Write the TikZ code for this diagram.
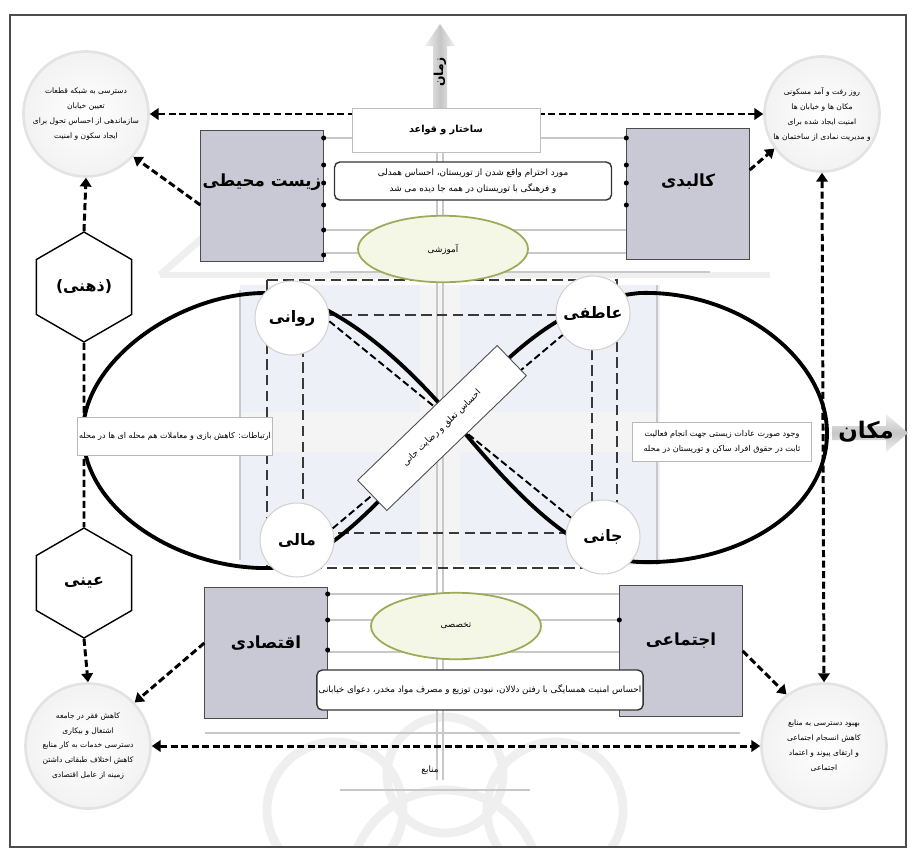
\documentclass[tikz,border=0pt]{standalone}
\usepackage{fontspec}
\usepackage{xcolor}
\usetikzlibrary{positioning,calc,arrows.meta,shapes.geometric}
\TeXXeTstate=1
\newfontfamily\fa[Script=Arabic]{DejaVu Sans}
\newcommand{\rl}[1]{\beginR#1\endR}
\definecolor{dimFill}{HTML}{C9C9D5}
\definecolor{ellLine}{HTML}{9EAA5A}
\definecolor{ellFill}{HTML}{F5F7E6}
\definecolor{panelFill}{HTML}{EDF1F7}
\definecolor{guideGray}{HTML}{C8C8C8}
\definecolor{markGray}{HTML}{EFEFEF}

\tikzset{
  dimBox/.style={rectangle, draw=gray!60!black, line width=0.5pt, fill=dimFill,
    minimum width=2.45cm, minimum height=2.62cm, inner sep=0pt},
  dimLabel/.style={font=\fa\bfseries\fontsize{9.5}{11}\selectfont},
  facetCirc/.style={circle, draw=gray!35, fill=white, line width=0.6pt,
    minimum size=1.48cm, inner sep=0pt, font=\fa\bfseries\fontsize{9}{10}\selectfont},
  cornerCirc/.style={circle, draw=gray!22, line width=1.5pt, inner color=white,
    outer color=gray!10, minimum size=2.5cm, inner sep=0pt, align=center,
    font=\fa\fontsize{4.3}{8.5}\selectfont},
  noteBox/.style={rectangle, draw=gray!40!black, line width=0.8pt, rounded corners=3pt,
    fill=white, inner sep=1pt, align=center, font=\fa\fontsize{5}{9}\selectfont},
  flatBox/.style={rectangle, draw=gray!55, line width=0.5pt, fill=white, inner sep=1pt,
    align=center, font=\fa\fontsize{4.6}{9}\selectfont},
  themeEll/.style={ellipse, draw=ellLine, line width=1pt, fill=ellFill,
    minimum width=3.4cm, minimum height=1.33cm, font=\fa\fontsize{5}{6}\selectfont},
  levelHex/.style={regular polygon, regular polygon sides=6, shape border rotate=30,
    draw=black, line width=0.8pt, fill=white, minimum size=2.2cm, inner sep=0pt,
    font=\fa\bfseries\fontsize{9}{10}\selectfont},
  flowDash/.style={line width=1.7pt, dash pattern=on 4pt off 2pt},
  flowTip/.style={-{Triangle[length=5pt,width=6.5pt]}},
  flowTips/.style={{Triangle[length=5pt,width=6.5pt]}-{Triangle[length=5pt,width=6.5pt]}},
  frameDash/.style={gray!45!black, line width=0.6pt, dash pattern=on 6pt off 3pt},
  guide/.style={guideGray, line width=0.6pt},
}

\begin{document}
\begin{tikzpicture}[x=0.02cm, y=-0.02cm]

\useasboundingbox (0,0) rectangle (910,849);
\fill[white] (0,0) rectangle (910,849);

% --- WATERMARK (faint) ---
\begin{scope}
  \clip (10,15) rectangle (906,847);
  \foreach \cx/\cy/\r in {335/810/68, 445/775/58, 555/810/68, 445/885/95}
    \draw[markGray, line width=5pt] (\cx,\cy) circle[radius=\r];
  \draw[markGray, line width=4pt] (160,275) -- (232,212);
  \draw[markGray, line width=3pt] (160,275) -- (770,275);
\end{scope}

% --- FRAME ---
\draw[line width=1.1pt, gray!60!black] (10,15) rectangle (906,847);

% --- CENTRE PANEL ---
\fill[panelFill] (240,285) rectangle (660,565);
\fill[gray!9] (420,285) rectangle (460,565);
\fill[gray!9] (240,412) rectangle (660,452);

% --- GUIDE LINES ---
\foreach \y in {138,230,253} \draw[guide] (325,\y) -- (628,\y);
\foreach \y in {594,620,652} \draw[guide] (328,\y) -- (623,\y);
\draw[guide] (330,272) -- (710,272);
\draw[guide] (205,733) -- (740,733);
\draw[guide] (340,790) -- (530,790);
\foreach \x in {437,443} \draw[guide] (\x,152) -- (\x,780);
\draw[guide] (240,290) -- (240,560);
\draw[guide] (657,285) -- (657,565);

% --- DASHED FRAMES ---
\draw[frameDash] (267,280) rectangle (617,568);
\draw[frameDash] (303,315) rectangle (592,533);

% --- DOUBLE LOOP ---
\draw[line width=2.2pt]
  (452,418) .. controls (390,345) and (320,292) .. (265,293)
  .. controls (180,293) and (83,360) .. (83,433)
  .. controls (83,510) and (180,570) .. (270,568)
  .. controls (330,566) and (400,480) .. (452,418)
  .. controls (500,362) and (560,300) .. (640,293)
  .. controls (740,290) and (827,360) .. (827,433)
  .. controls (827,510) and (740,565) .. (640,562)
  .. controls (570,560) and (500,475) .. (452,418);

% --- FACET CIRCLES ---
\node[facetCirc] (ravCirc)  at (292,318) {\rl{روانی}};
\node[facetCirc] (atfCirc)  at (593,313) {\rl{عاطفی}};
\node[facetCirc] (maliCirc) at (297,540) {\rl{مالی}};
\node[facetCirc] (janCirc)  at (603,537) {\rl{جانی}};
\draw[flowDash, line width=1.1pt] (ravCirc.-5) -- (janCirc.149);
\draw[flowDash, line width=1.1pt] (maliCirc.18) -- (atfCirc.216);

% --- DIAGONAL NOTE ---
\node[flatBox, draw=gray!60!black, rotate=44, minimum width=3.88cm, minimum height=0.84cm,
      font=\fa\fontsize{5}{9}\selectfont] (diagBox) at (442,428)
  {\rl{احساس تعلق و رضایت جانی}};

% --- LEVEL HEXAGONS + CORNER CIRCLES ---
\node[levelHex] (dhnHex) at (84,287) {\rl{(ذهنی)}};
\node[levelHex] (eynHex) at (84,583) {\rl{عینی}};
\node[cornerCirc] (crnTL) at (86,114)
  {\rl{دسترسی به شبکه قطعات}\\\rl{تعیین خیابان}\\\rl{سازماندهی از احساس تحول برای}\\\rl{ایجاد سکون و امنیت}};
\node[cornerCirc, minimum size=2.3cm] (crnTR) at (822,114)
  {\rl{روز رفت و آمد مسکونی}\\\rl{مکان ها و خیابان ها}\\\rl{امنیت ایجاد شده برای}\\\rl{و مدیریت نمادی از ساختمان ها}};
\node[cornerCirc] (crnBL) at (88,746)
  {\rl{کاهش فقر در جامعه}\\\rl{اشتغال و بیکاری}\\\rl{دسترسی خدمات به کار منابع}\\\rl{کاهش اختلاف طبقاتی داشتن}\\\rl{زمینه از عامل اقتصادی}};
\node[cornerCirc] (crnBR) at (824,746)
  {\rl{بهبود دسترسی به منابع}\\\rl{کاهش انسجام اجتماعی}\\\rl{و ارتقای پیوند و اعتماد}\\\rl{اجتماعی}};

% --- LEVEL LINKS ---
\draw[flowDash] (dhnHex.south) -- (eynHex.north);
\draw[flowDash, flowTip] (dhnHex.north) -- (crnTL.south);
\draw[flowDash, flowTip] (eynHex.south) -- (crnBL.north);
\draw[flowDash, flowTips] (crnTL.east) -- (crnTR.west);
\draw[flowDash, flowTips] (crnBL.east) -- (crnBR.west);
\draw[flowDash, flowTips] (crnTR.south) -- (crnBR.north);

% --- SIDE NOTES ---
\node[flatBox, minimum width=3.68cm, minimum height=0.76cm] (leftNote) at (175,436)
  {\rl{ارتباطات: کاهش بازی و معاملات هم محله ای ها در محله}};
\node[flatBox, minimum width=3.58cm, minimum height=0.78cm] (rightNote) at (722,442)
  {\rl{وجود صورت عادات زیستی جهت انجام فعالیت}\\\rl{ثابت در حقوق افراد ساکن و توریستان در محله}};

% --- DIMENSION BOXES ---
\node[dimBox] (zistBox) at (262,196) {};
\node[dimBox] (kalbBox) at (688,194) {};
\node[dimBox] (eqtBox)  at (266,653) {};
\node[dimBox] (ejtBox)  at (681,651) {};
\node[dimLabel] (zistLbl) at (262,182) {\rl{زیست محیطی}};
\node[dimLabel] (kalbLbl) at (688,182) {\rl{کالبدی}};
\node[dimLabel] (eqtLbl)  at (266,643) {\rl{اقتصادی}};
\node[dimLabel] (ejtLbl)  at (681,641) {\rl{اجتماعی}};
\foreach \y in {138,165,183,205,230,255} \fill (zistBox.east |- 0,\y) circle[radius=2.5];
\foreach \y in {138,165,183,205} \fill (kalbBox.west |- 0,\y) circle[radius=2.5];
\foreach \y in {594,620,650,680,705} \fill (eqtBox.east |- 0,\y) circle[radius=2.5];
\foreach \y in {620,682} \fill (ejtBox.west |- 0,\y) circle[radius=2.5];

\draw[flowDash, flowTip] ([yshift=-0.18cm]zistBox.west) -- (crnTL.-42);
\draw[flowDash, flowTip] ([yshift=0.48cm]kalbBox.east) -- (crnTR.216);
\draw[flowDash, flowTip] ([yshift=0.2cm]eqtBox.west) -- (crnBL.43);
\draw[flowDash, flowTip] (ejtBox.east) -- (crnBR.126);

% --- THEMES + NOTES ---
\node[themeEll] (topEll) at (443,249) {\rl{آموزشی}};
\node[themeEll] (botEll) at (456,626) {\rl{تخصصی}};
\node[noteBox, minimum width=5.54cm, minimum height=0.76cm] (topNote) at (473,181)
  {\rl{مورد احترام واقع شدن از توریستان، احساس همدلی}\\\rl{و فرهنگی با توریستان در همه جا دیده می شد}};
\node[noteBox, minimum width=5.6cm, minimum height=0.8cm] (botNote) at (480,690)
  {\rl{احساس امنیت همسایگی با رفتن دلالان، نبودن توزیع و مصرف مواد مخدر، دعوای خیابانی}};

% --- AXES ---
\shade[left color=gray!12, right color=gray!12, middle color=gray!45]
  (433,110) -- (433,46) -- (425,46) -- (440,24) -- (455,46) -- (447,46) -- (447,110) -- cycle;
\node[rotate=90, font=\fa\bfseries\fontsize{7}{8}\selectfont] (timeLbl) at (440,72) {\rl{زمان}};
\shade[top color=gray!12, bottom color=gray!12, middle color=gray!45]
  (832,426) -- (886,426) -- (886,414) -- (908,433) -- (886,452) -- (886,440) -- (832,440) -- cycle;
\node[font=\fa\bfseries\fontsize{13}{14}\selectfont] (placeLbl) at (866,432) {\rl{مکان}};
\node[flatBox, draw=gray!50, minimum width=3.76cm, minimum height=0.88cm,
      font=\fa\bfseries\fontsize{5.5}{7}\selectfont] (topBox) at (446,130) {\rl{ساختار و قواعد}};
\node[font=\fa\fontsize{5}{6}\selectfont] (srcLbl) at (430,770) {\rl{منابع}};

\end{tikzpicture}
\end{document}
